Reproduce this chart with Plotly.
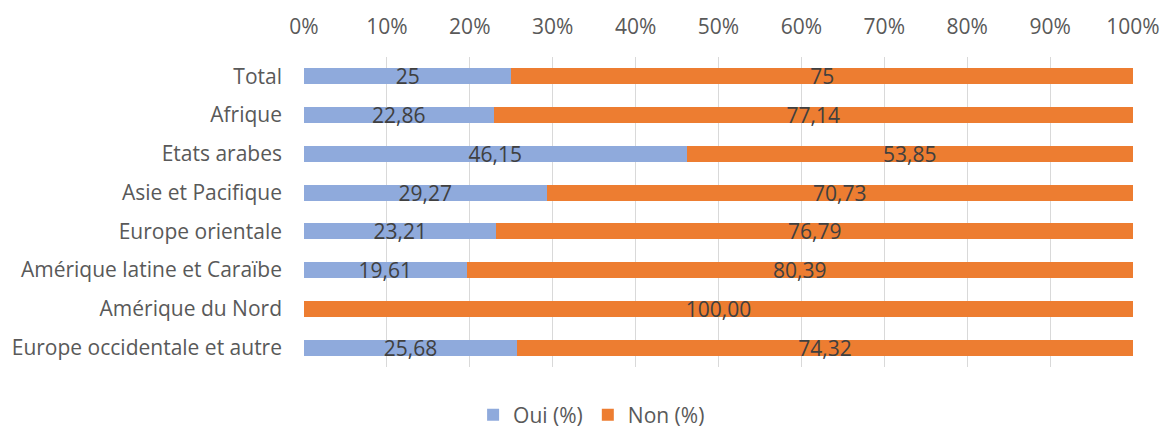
import plotly.graph_objects as go

categories = ["Total", "Afrique", "Etats arabes", "Asie et Pacifique", "Europe orientale",
              "Amérique latine et Caraïbe", "Amérique du Nord", "Europe occidentale et autre"]
oui = [25, 22.86, 46.15, 29.27, 23.21, 19.61, 0, 25.68]
non = [75, 77.14, 53.85, 70.73, 76.79, 80.39, 100, 74.32]
oui_labels = ["25", "22,86", "46,15", "29,27", "23,21", "19,61", "", "25,68"]
non_labels = ["75", "77,14", "53,85", "70,73", "76,79", "80,39", "100,00", "74,32"]
tick_vals = [0, 10, 20, 30, 40, 50, 60, 70, 80, 90, 100]
tick_text = ["0%", "10%", "20%", "30%", "40%", "50%", "60%", "70%", "80%", "90%", "100%"]

FONT = "'Open Sans', 'Noto Sans', sans-serif"
FS = 21

fig = go.Figure()
fig.add_trace(go.Bar(y=categories, x=oui, name="Oui (%)", orientation="h",
                     marker=dict(color="#8FAADC", line=dict(width=0)),
                     text=oui_labels, textposition="inside", insidetextanchor="middle",
                     textangle=0, constraintext="none",
                     textfont=dict(color="#404040", size=FS, family=FONT)))
fig.add_trace(go.Bar(y=categories, x=non, name="Non (%)", orientation="h",
                     marker=dict(color="#ED7D31", line=dict(width=0)),
                     text=non_labels, textposition="inside", insidetextanchor="middle",
                     textangle=0, constraintext="none",
                     textfont=dict(color="#404040", size=FS, family=FONT)))

fig.update_layout(
    barmode="stack",
    bargap=0.59,
    width=1160, height=428,
    margin=dict(l=304, r=27, t=57, b=61, autoexpand=False),
    paper_bgcolor="white", plot_bgcolor="white",
    font=dict(family=FONT, color="#595959", size=FS),
    uniformtext=dict(minsize=FS, mode="show"),
    showlegend=True,
    legend=dict(orientation="h", xref="container", x=0.51, xanchor="center",
                yref="paper", y=-0.155, yanchor="middle",
                font=dict(size=FS, color="#595959", family=FONT), traceorder="normal",
                itemwidth=30),
    xaxis=dict(side="top", range=[0, 100], tickvals=tick_vals, ticktext=tick_text,
               showgrid=True, gridcolor="#D9D9D9", gridwidth=1, zeroline=False,
               showline=False, ticks="", fixedrange=True, automargin=False,
               ticklabelstandoff=18,
               tickfont=dict(size=FS, color="#595959", family=FONT)),
    yaxis=dict(autorange="reversed", showgrid=False, showline=False, ticks="",
               ticklabelstandoff=21, automargin=False, fixedrange=True,
               tickfont=dict(size=FS, color="#595959", family=FONT)),
)

fig.write_html("out.html", config={"displayModeBar": False},
               post_script="document.body.style.margin='0px';document.body.style.overflow='hidden';")
